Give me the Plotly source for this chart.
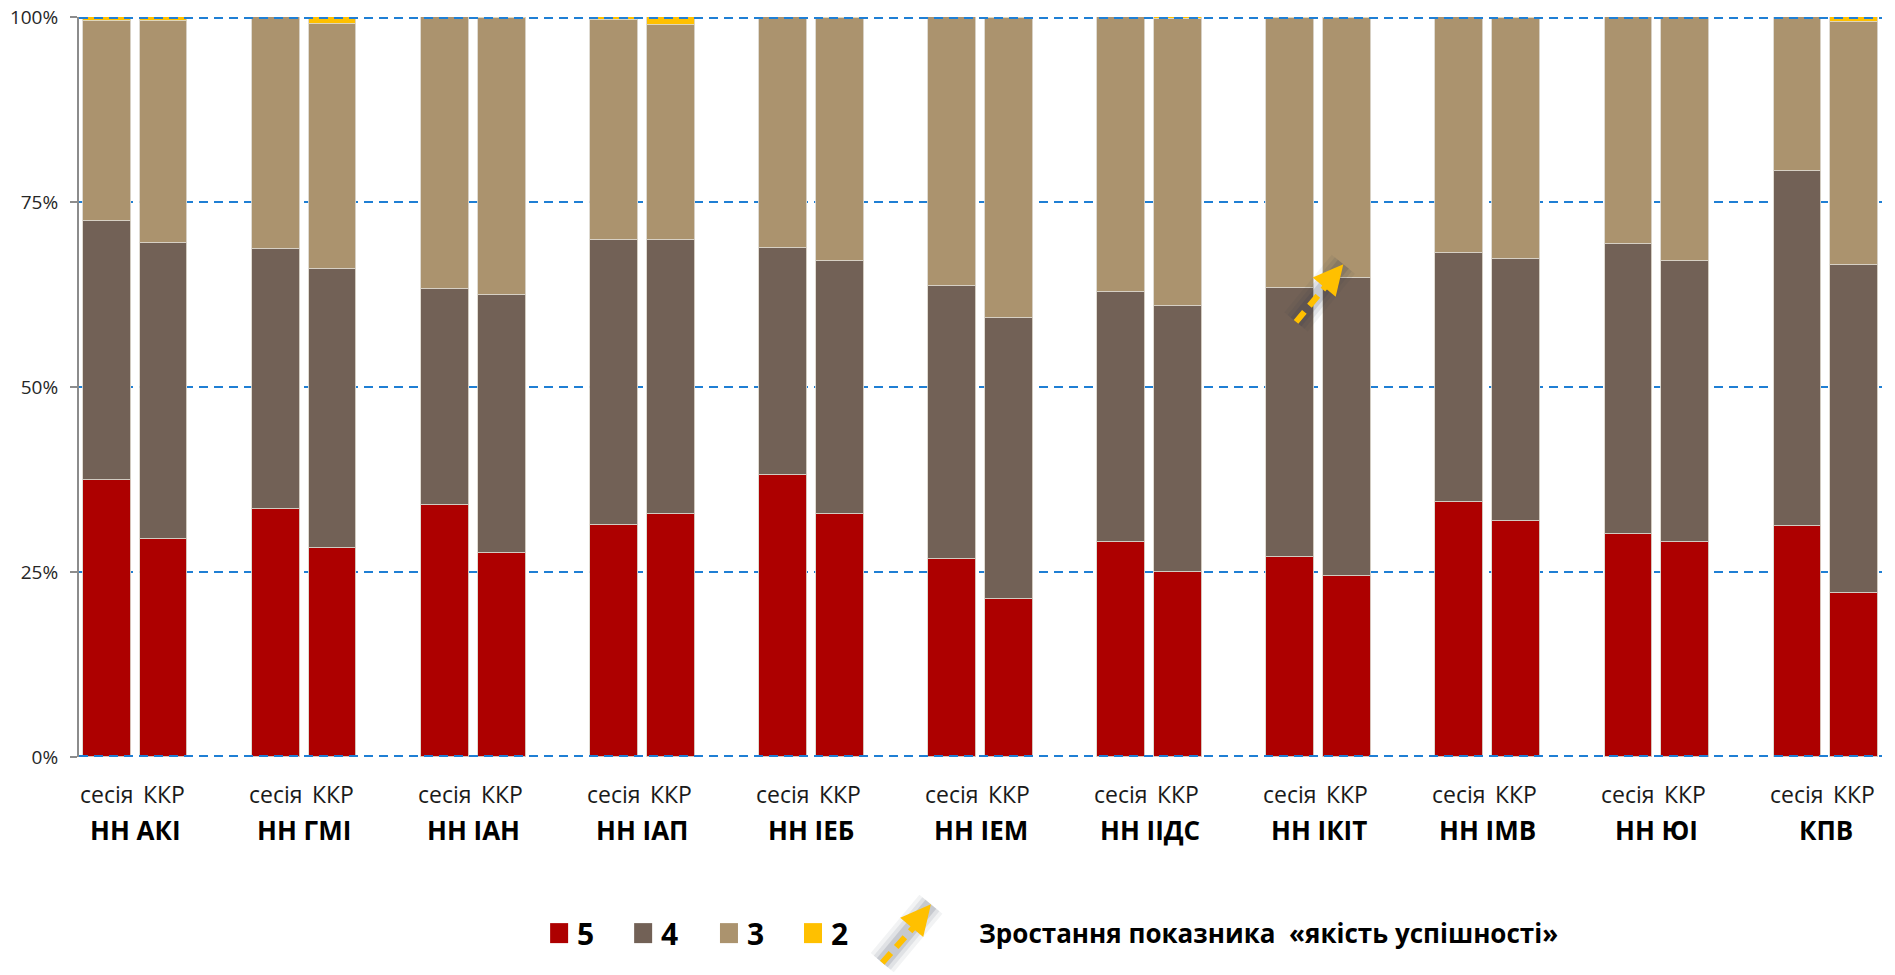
import plotly.graph_objects as go

# ---------------- data ----------------
groups = ["НН АКІ", "НН ГМІ", "НН ІАН", "НН ІАП", "НН ІЕБ", "НН ІЕМ",
          "НН ІІДС", "НН ІКІТ", "НН ІМВ", "НН ЮІ", "КПВ"]
sub_labels = ["сесія", "ККР"]

# percentages per group: session / KKR
grade5_session = [37.4, 33.5, 34.0, 31.4, 38.1, 26.8, 29.1, 27.0, 34.5, 30.1, 31.2]
grade4_session = [35.0, 35.1, 29.2, 38.5, 30.7, 36.9, 33.8, 36.4, 33.6, 39.2, 48.0]
grade3_session = [27.1, 31.4, 36.8, 29.7, 31.2, 36.3, 37.1, 36.4, 31.9, 30.7, 20.8]
grade2_session = [0.5, 0.0, 0.0, 0.4, 0.0, 0.0, 0.0, 0.2, 0.0, 0.0, 0.0]

grade5_kkr = [29.4, 28.3, 27.6, 32.8, 32.8, 21.4, 25.0, 24.5, 31.9, 29.1, 22.2]
grade4_kkr = [40.0, 37.7, 34.8, 37.0, 34.2, 37.9, 35.9, 40.2, 35.4, 37.9, 44.3]
grade3_kkr = [30.1, 33.0, 37.4, 29.1, 32.8, 40.6, 38.8, 35.1, 32.5, 33.0, 32.8]
grade2_kkr = [0.5, 1.0, 0.2, 1.1, 0.2, 0.1, 0.3, 0.2, 0.2, 0.0, 0.7]

grade_names = ["5", "4", "3", "2"]
colors = ["#AD0000", "#726156", "#AB936E", "#FFC000"]
y_ticks = [0, 25, 50, 75, 100]
y_tick_labels = ["0%", "25%", "50%", "75%", "100%"]
legend_note = "Зростання показника  «якість успішності»"

# ---------------- build ----------------
FONT = "Open Sans"
GRID = "#1F7FD4"
x_ses = [3 * i for i in range(len(groups))]
x_kkr = [3 * i + 1 for i in range(len(groups))]
xs = []
for a, b in zip(x_ses, x_kkr):
    xs += [a, b]

def interleave(a, b):
    out = []
    for p, q in zip(a, b):
        out += [p, q]
    return out

series = [
    interleave(grade5_session, grade5_kkr),
    interleave(grade4_session, grade4_kkr),
    interleave(grade3_session, grade3_kkr),
    interleave(grade2_session, grade2_kkr),
]

fig = go.Figure()
for name, vals, col in zip(grade_names, series, colors):
    fig.add_trace(go.Bar(
        x=xs, y=vals, name=name, width=0.85,
        marker=dict(color=col, line=dict(color="rgba(220,215,205,0.9)", width=1)),
        showlegend=False, hoverinfo="y+name",
    ))

fig.update_layout(
    barmode="stack",
    width=1895, height=975,
    margin=dict(l=79, r=13, t=17, b=218, autoexpand=False),
    paper_bgcolor="white", plot_bgcolor="white",
    font=dict(family=FONT, color="#262626"),
    bargap=0,
    xaxis=dict(range=[-0.5, 3 * len(groups) - 1.5], showgrid=False, zeroline=False,
               showticklabels=False, ticks="", showline=False, fixedrange=True,
               automargin=False),
    yaxis=dict(range=[0, 100], tickmode="array", tickvals=y_ticks, ticktext=y_tick_labels,
               showgrid=True, gridcolor=GRID, gridwidth=2, griddash="9px,6px",
               zeroline=False, showline=True, linecolor="#8C8C8C", linewidth=2,
               ticks="outside", ticklen=7, tickcolor="#8C8C8C", tickwidth=2,
               ticklabelstandoff=8,
               tickfont=dict(size=19, color="#262626", family=FONT),
               automargin=False),
)

annotations = []
for g, (xa, xb) in enumerate(zip(x_ses, x_kkr)):
    for xv, lab in zip((xa, xb), sub_labels):
        annotations.append(dict(x=xv, y=-0.05, xref="x", yref="paper", text=lab,
                                showarrow=False, yanchor="middle",
                                font=dict(size=23, family=FONT, color="#1a1a1a")))
    annotations.append(dict(x=(xa + xb) / 2, y=-0.098, xref="x", yref="paper",
                            text="<b>%s</b>" % groups[g], showarrow=False, yanchor="middle",
                            font=dict(size=26, family=FONT, color="#000000")))

shapes = []
# gridlines on the range edges (drawn over the bars, as in the original)
for yv in (y_ticks[0], y_ticks[-1]):
    shapes.append(dict(type="line", xref="paper", yref="y", x0=0, x1=1, y0=yv, y1=yv,
                       line=dict(color=GRID, width=4, dash="9px,6px"), layer="above"))

# custom legend
leg_y = -0.238
leg_x = [0.2613, 0.3079, 0.3555, 0.4021]
sq_w, sq_h = 18 / 1803, 20 / 740
for lx, name, col in zip(leg_x, grade_names, colors):
    shapes.append(dict(type="rect", xref="paper", yref="paper", x0=lx, x1=lx + sq_w,
                       y0=leg_y - sq_h / 2, y1=leg_y + sq_h / 2,
                       fillcolor=col, line=dict(width=0)))
    annotations.append(dict(x=lx + sq_w + 0.004, y=leg_y, xref="paper", yref="paper",
                            text="<b>%s</b>" % name,
                            showarrow=False, xanchor="left", yanchor="middle",
                            font=dict(size=30, family=FONT, color="#000000")))
annotations.append(dict(x=0.498, y=leg_y, xref="paper", yref="paper",
                        text="<b>%s</b>" % legend_note, showarrow=False,
                        xanchor="left", yanchor="middle",
                        font=dict(size=26, family=FONT, color="#000000")))


def add_arrow(x0, y0, xd, yd, xt, yt, xref, yref):
    for w, c in ((30, "rgba(40,50,75,0.06)"), (22, "rgba(40,50,75,0.09)"),
                 (14, "rgba(40,50,75,0.14)")):
        shapes.append(dict(type="line", x0=x0, y0=y0, x1=xt, y1=yt, xref=xref, yref=yref,
                           line=dict(color=c, width=w), layer="above"))
    shapes.append(dict(type="line", x0=x0, y0=y0, x1=xd, y1=yd, xref=xref, yref=yref,
                       line=dict(color="#FFC000", width=6, dash="13px,8px"), layer="above"))
    annotations.append(dict(x=xt, y=yt, xref=xref, yref=yref, ax=-10, ay=12,
                            axref="pixel", ayref="pixel", text="", showarrow=True,
                            arrowhead=2, arrowsize=1.5, arrowwidth=4, arrowcolor="#FFC000"))

# arrow inside chart (НН ІКІТ)
add_arrow(21.10, 58.8, 21.80, 65.2, 21.94, 66.6, "x", "y")
# arrow in legend
add_arrow(0.4455, -0.278, 0.4685, -0.215, 0.4725, -0.199, "paper", "paper")

fig.update_layout(annotations=annotations, shapes=shapes)
fig.write_html("out.html", config={"displayModeBar": False},
               post_script="document.body.style.margin='0';document.body.style.overflow='hidden';")
